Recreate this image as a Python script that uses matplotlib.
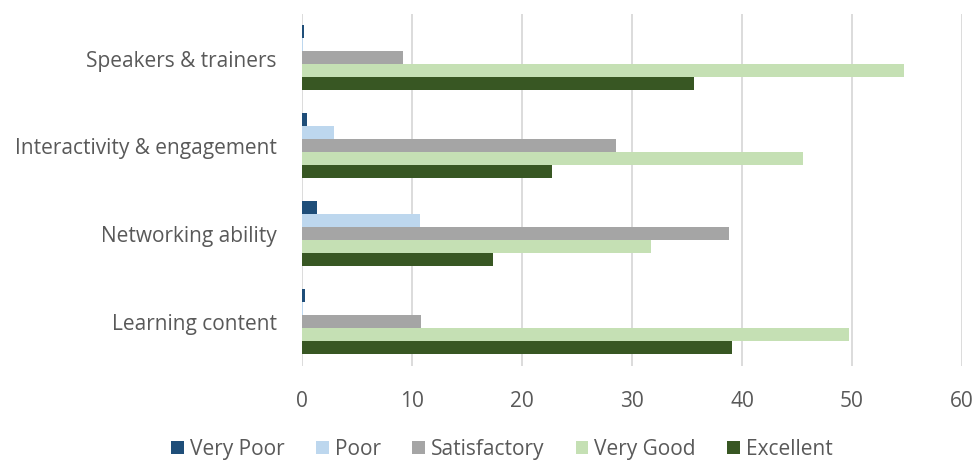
import matplotlib
matplotlib.use("Agg")
import matplotlib.pyplot as plt
import numpy as np

categories = ["Learning content", "Networking ability", "Interactivity & engagement", "Speakers & trainers"]
series = ["Very Poor", "Poor", "Satisfactory", "Very Good", "Excellent"]
very_poor = [0.25, 1.4, 0.45, 0.2]
poor = [0.1, 10.7, 2.9, 0.1]
satisfactory = [10.8, 38.8, 28.5, 9.2]
very_good = [49.7, 31.7, 45.5, 54.7]
excellent = [39.1, 17.4, 22.7, 35.6]
x_ticks = [0, 10, 20, 30, 40, 50, 60]

values = [very_poor, poor, satisfactory, very_good, excellent]
colors = ["#1f4e79", "#bdd7ee", "#a5a5a5", "#c5e0b4", "#385723"]

plt.rcParams['font.family'] = ['Open Sans', 'DejaVu Sans']
text_color = "#595959"

fig = plt.figure(figsize=(9.76, 4.64), dpi=100)
ax = fig.add_axes([302/976, 1-366.5/464, 660/976, 352/464])

h = 0.148
ypos = np.arange(len(categories))
for i, (name, vals, col) in enumerate(zip(series, values, colors)):
    ax.barh(ypos + (2 - i) * h, vals, height=h, color=col, label=name, zorder=3)

ax.set_xlim(0, 60)
ax.set_ylim(-0.5, 3.5)
ax.set_xticks(x_ticks)
ax.set_yticks(ypos)
ax.set_yticklabels(categories)
ax.grid(axis='x', color='#d9d9d9', linewidth=1.3, zorder=0)
for s in ax.spines.values():
    s.set_visible(False)
ax.tick_params(axis='both', length=0, colors=text_color, labelsize=15)
ax.tick_params(axis='x', pad=18)
ax.tick_params(axis='y', pad=18)

handles, labels = ax.get_legend_handles_labels()
fig.legend(handles, labels, loc='center', bbox_to_anchor=(502/976, 1-450/464), ncol=5,
           frameon=False, fontsize=15, labelcolor=text_color, handlelength=0.6, handleheight=0.6,
           columnspacing=1.5, handletextpad=0.3)

fig.savefig("out.png", dpi=100)
